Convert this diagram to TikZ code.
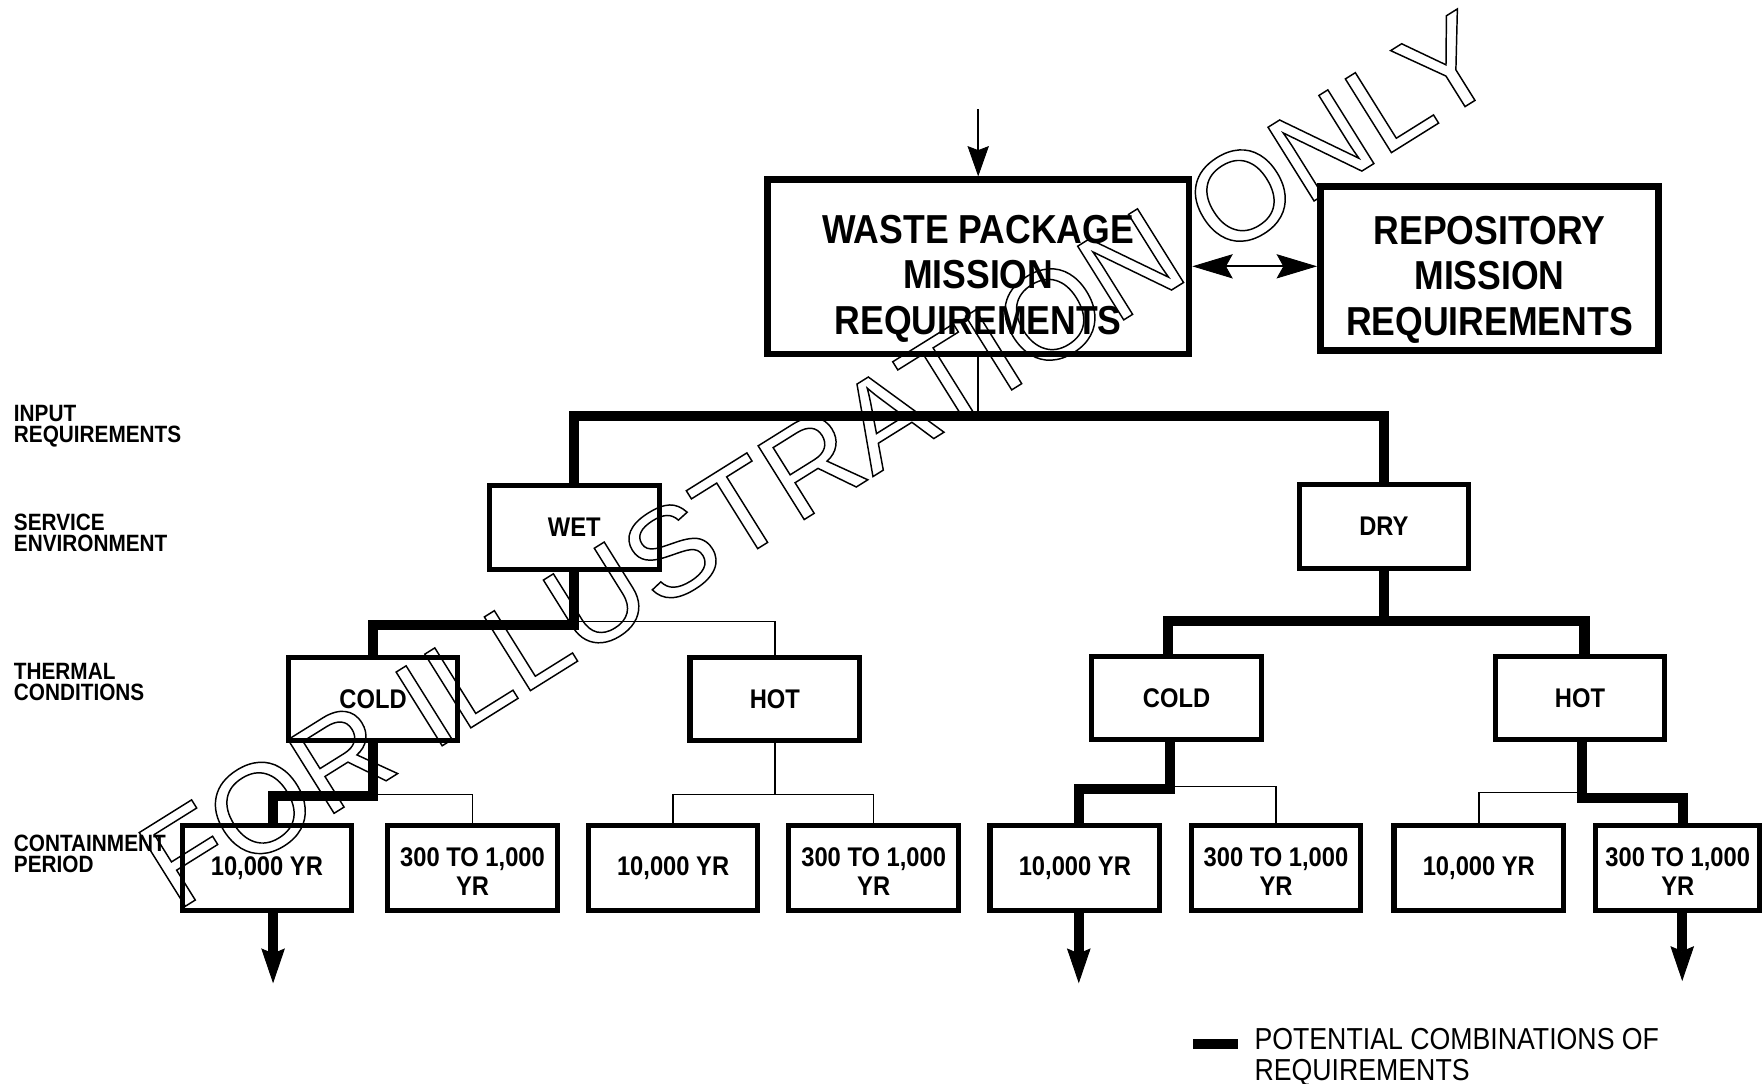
\documentclass[tikz,border=0pt]{standalone}
\usepackage{fontspec}
\setmainfont{Liberation Sans}
\newfontfamily\condfont{Liberation Sans}[FakeStretch=0.88]
\usetikzlibrary{arrows.meta}

% move content up or down without changing the size it reports
\newcommand\lowered[2]{\raisebox{#1}[\height][\depth]{#2}}
\newcommand\cstack[1]{\begin{tabular}{@{}c@{}}#1\end{tabular}}
% stroked, unfilled glyphs through the PDF text rendering mode
\newcommand\outlinetext[1]{\special{pdf:literal direct 1 Tr 0.65 w}#1\special{pdf:literal direct 0 Tr}}

\tikzset{
  bigbox/.style={draw, line width=3pt, inner sep=0pt,
    font=\condfont\bfseries\fontsize{18}{20.25}\selectfont},
  smallbox/.style={draw, line width=2.25pt, inner sep=0pt,
    minimum width=75.5pt, minimum height=37.5pt,
    font=\condfont\bfseries\fontsize{12}{13}\selectfont},
  levellabel/.style={inner sep=0pt, anchor=west, align=left,
    font=\condfont\bfseries\fontsize{10.5}{9.5}\selectfont},
  legendtext/.style={inner sep=0pt, anchor=west, align=left,
    font=\condfont\fontsize{13.5}{13.5}\selectfont},
  watermark/.style={inner sep=0pt, font=\fontsize{56.2}{60}\selectfont},
  plainlink/.style={line width=0.65pt},
  combo/.style={line width=4.5pt},
  outarrow/.style={combo,
    -{Stealth[length=15.5pt, width=10.5pt, inset=2.2pt, line width=0.4pt]}},
  inarrow/.style={line width=0.9pt,
    -{Stealth[length=13.5pt, width=9.5pt, inset=1.8pt, line width=0.4pt]}},
  linkarrow/.style={line width=0.9pt,
    {Stealth[length=18pt, width=10.8pt, inset=3pt, line width=0.4pt]}-{Stealth[length=18pt, width=10.8pt, inset=3pt, line width=0.4pt]}},
}

\begin{document}
\begin{tikzpicture}[x=0.5pt, y=-0.5pt, line join=miter]
\useasboundingbox (0,0) rectangle (1568,964);

% mission requirement boxes
\node[bigbox, minimum width=187.5pt, minimum height=77.5pt] (wp) at (870.5,237.5)
  {\lowered{-5.6pt}{\cstack{WASTE PACKAGE\\MISSION\\REQUIREMENTS}}};
\node[bigbox, minimum width=150.5pt, minimum height=73pt] (rep) at (1325.5,239)
  {\lowered{-5.4pt}{\cstack{REPOSITORY\\MISSION\\REQUIREMENTS}}};
\coordinate (feed) at (870.5,97);
\draw[inarrow] (feed) -- (wp.north);
\draw[linkarrow] (wp.east |- 0,237) -- (rep.west |- 0,237);

% level captions
\node[levellabel] (lvinput)   at (12,379) {INPUT\\REQUIREMENTS};
\node[levellabel] (lvservice) at (12,474) {SERVICE\\ENVIRONMENT};
\node[levellabel] (lvthermal) at (12,607) {THERMAL\\CONDITIONS};
\node[levellabel] (lvcontain) at (12,760) {CONTAINMENT\\PERIOD};

% service environment
\node[smallbox] (wet) at (511,469.5) {WET};
\node[smallbox] (dry) at (1231.5,468.5) {DRY};

% thermal conditions
\node[smallbox, minimum height=37pt] (coldw) at (332,622)    {COLD};
\node[smallbox, minimum height=37pt] (hotw)  at (689.5,622)  {HOT};
\node[smallbox, minimum height=37pt] (coldd) at (1047,621)   {COLD};
\node[smallbox, minimum height=37pt] (hotd)  at (1406,621)   {HOT};

% containment periods
\node[smallbox] (b1) at (237.5,772.5)  {10,000 YR};
\node[smallbox] (b2) at (420.5,772.5)  {\lowered{-3pt}{\cstack{300 TO 1,000\\YR}}};
\node[smallbox] (b3) at (599,772.5)    {10,000 YR};
\node[smallbox] (b4) at (777.5,772.5)  {\lowered{-3pt}{\cstack{300 TO 1,000\\YR}}};
\node[smallbox] (b5) at (956.5,772.5)  {10,000 YR};
\node[smallbox] (b6) at (1135.5,772.5) {\lowered{-3pt}{\cstack{300 TO 1,000\\YR}}};
\node[smallbox] (b7) at (1316,772.5)   {10,000 YR};
\node[smallbox, minimum width=73pt] (b8) at (1493,772.5) {\lowered{-3pt}{\cstack{300 TO 1,000\\YR}}};

% plain branches
\draw[plainlink] (wp.south) -- (wp.south |- 0,370);
\draw[plainlink] (wet.south) -- (wet.south |- 0,553) -| (hotw.north);
\draw[plainlink] (coldw.south) -- (coldw.south |- 0,707) -| (b2.north);
\draw[plainlink] (hotw.south) -- (hotw.south |- 0,707);
\draw[plainlink] (b3.north) -- (b3.north |- 0,707) -- (b4.north |- 0,707) -- (b4.north);
\draw[plainlink] (coldd.south -| 1041,0) -- (1041,700) -- (b6.north |- 0,700) -- (b6.north);
\draw[plainlink] (hotd.south -| 1408,0) -- (1408,705) -- (b7.north |- 0,705) -- (b7.north);

% potential combinations
\draw[combo] (wet.north) -- (wet.north |- 0,370) -- (dry.north |- 0,370) -- (dry.north);
\draw[combo] (wet.south) -- (wet.south |- 0,556) -| (coldw.north);
\draw[combo] (coldw.south) -- (coldw.south |- 0,708) -- (243,708) -- (b1.north -| 243,0);
\draw[combo] (dry.south) -- (dry.south |- 0,553);
\draw[combo] (coldd.north -| 1039,0) -- (1039,553) -- (1410,553) -- (hotd.north -| 1410,0);
\draw[combo] (coldd.south -| 1041,0) -- (1041,702) -- (960,702) -- (b5.north -| 960,0);
\draw[combo] (hotd.south -| 1408,0) -- (1408,710) -- (1498,710) -- (b8.north -| 1498,0);

% continuing combinations
\coordinate (out1) at (243,875);
\coordinate (out5) at (960,875);
\coordinate (out8) at (1497,873);
\draw[outarrow] (b1.south -| out1) -- (out1);
\draw[outarrow] (b5.south -| out5) -- (out5);
\draw[outarrow] (b8.south -| out8) -- (out8);

% legend
\coordinate (keyA) at (1062,929);
\coordinate (keyB) at (1102,929);
\draw[combo] (keyA) -- (keyB);
\node[legendtext] (keytext) at (1116,941) {POTENTIAL COMBINATIONS OF\\REQUIREMENTS};

% stamp across the chart
\node[watermark, rotate=32] (mark) at (728,409) {\outlinetext{FOR ILLUSTRATION ONLY}};
\end{tikzpicture}
\end{document}
